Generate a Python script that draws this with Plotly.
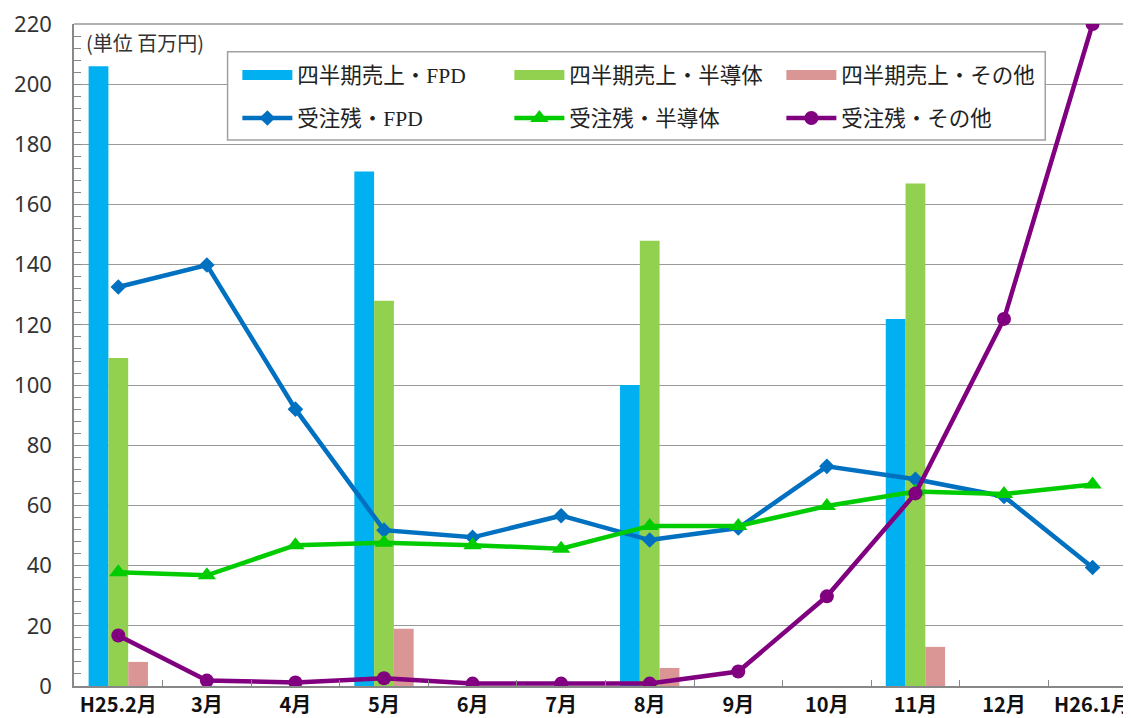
import plotly.graph_objects as go

categories = ["H25.2月", "3月", "4月", "5月", "6月", "7月", "8月", "9月", "10月", "11月", "12月", "H26.1月"]

sales_fpd = [206, None, None, 171, None, None, 100, None, None, 122, None, None]
sales_semi = [109, None, None, 128, None, None, 148, None, None, 167, None, None]
sales_other = [8, None, None, 19, None, None, 6, None, None, 13, None, None]

backlog_fpd = [132.6, 139.9, 92, 51.8, 49.4, 56.6, 48.5, 52.5, 73, 68.7, 63, 39.4]
backlog_semi = [37.8, 36.8, 46.8, 47.6, 46.8, 45.6, 53.2, 53.2, 59.8, 64.6, 63.8, 67]
backlog_other = [16.8, 1.8, 1.2, 2.6, 0.8, 0.8, 0.8, 4.8, 29.8, 64, 122, 220]

names_sales = ["四半期売上・FPD", "四半期売上・半導体", "四半期売上・その他"]
names_backlog = ["受注残・FPD", "受注残・半導体", "受注残・その他"]

bar_colors = ["#00B0F0", "#92D050", "#D99694"]
line_colors = ["#0070C0", "#00CC00", "#800080"]
symbols = ["diamond", "triangle-up", "circle"]
msizes = [12, 16, 14]

fig = go.Figure()

for vals, name, col in zip([sales_fpd, sales_semi, sales_other], names_sales, bar_colors):
    fig.add_trace(go.Bar(x=categories, y=vals, name=name, marker=dict(color=col, line=dict(width=0)),
                         showlegend=False))

for vals, name, col, sym, ms in zip([backlog_fpd, backlog_semi, backlog_other], names_backlog,
                                    line_colors, symbols, msizes):
    fig.add_trace(go.Scatter(x=categories, y=vals, name=name, mode="lines+markers",
                             line=dict(color=col, width=4.5),
                             marker=dict(symbol=sym, size=ms, color=col),
                             legend="legend2"))

# legend entries for bars shown as wide swatches
for name, col in zip(names_sales, bar_colors):
    fig.add_trace(go.Scatter(x=[None], y=[None], name=name, mode="lines",
                             line=dict(color=col, width=10), legend="legend"))

legend_font = dict(family="Liberation Serif, Noto Sans CJK JP", size=21.5, color="#222222")

fig.update_layout(
    width=1123, height=710,
    margin=dict(l=66, r=0, t=16, b=32),
    paper_bgcolor="white", plot_bgcolor="white",
    barmode="group", bargap=0.33, bargroupgap=0,
    legend=dict(orientation="h", x=0.155, y=0.923, xanchor="left", yanchor="middle",
                bgcolor="rgba(0,0,0,0)", font=legend_font, itemwidth=50, entrywidth=207,
                traceorder="normal", itemclick=False),
    legend2=dict(orientation="h", x=0.155, y=0.858, xanchor="left", yanchor="middle",
                 bgcolor="rgba(0,0,0,0)", font=legend_font, itemwidth=50, entrywidth=207,
                 traceorder="normal", itemclick=False),
    shapes=[dict(type="rect", xref="paper", yref="paper", x0=0.1457, x1=0.9215, y0=0.8248, y1=0.958,
                 line=dict(color="#A0A0A0", width=1.5), fillcolor="white", layer="above")],
    annotations=[dict(text="(単位 百万円)", xref="paper", yref="paper", x=0.0095, y=0.972,
                      xanchor="left", yanchor="middle", showarrow=False,
                      font=dict(family="Noto Sans CJK JP", size=20, color="#333333"))],
)

fig.update_xaxes(
    type="category", range=[-0.5, 11.4],
    showline=True, linecolor="#888888", linewidth=1.5, mirror=False,
    ticks="inside", tickson="boundaries", ticklen=6, tickcolor="#888888",
    tickfont=dict(family="Noto Sans CJK JP", size=20, color="#111111", weight="bold"),
    showgrid=False, zeroline=False,
)
fig.update_yaxes(
    range=[0, 220], dtick=20, tick0=0,
    showline=True, linecolor="#888888", linewidth=1.5,
    ticks="inside", ticklen=7, tickcolor="#888888",
    minor=dict(dtick=4, ticks="inside", ticklen=7, tickcolor="#888888", showgrid=False),
    showgrid=True, gridcolor="#999999", gridwidth=1,
    zeroline=False,
    tickfont=dict(family="Noto Sans, DejaVu Sans", size=22, color="#333333"),
    ticklabelstandoff=16, ticklabeloverflow="allow",
)
# top frame line
fig.add_shape(type="line", xref="paper", yref="paper", x0=0, x1=1, y0=1, y1=1,
              line=dict(color="#999999", width=1.5), layer="below")

fig.write_html("out.html")
